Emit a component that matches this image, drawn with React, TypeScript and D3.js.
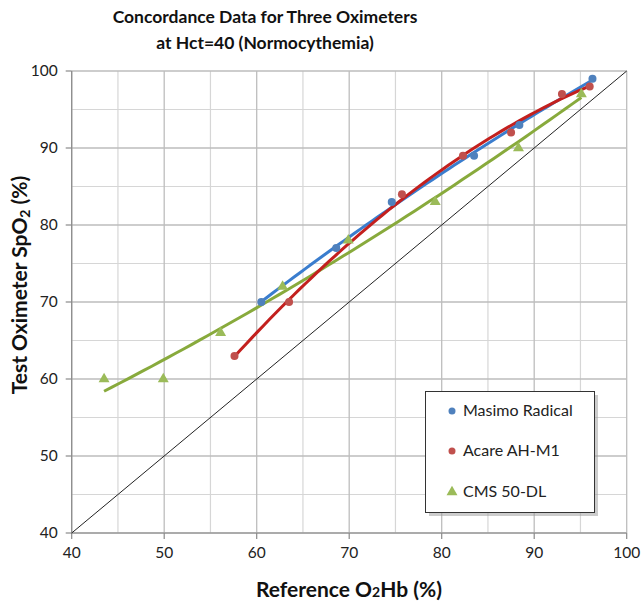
import React from "react";
import * as d3 from "d3";

const masimoX = [60.5, 68.6, 74.6, 83.5, 88.4, 96.3];
const masimoY = [70, 77, 83, 89, 93, 99];
const acareX = [57.6, 63.5, 75.7, 82.3, 87.5, 93.0, 96.0];
const acareY = [63, 70, 84, 89, 92, 97, 98];
const cmsX = [43.5, 49.9, 56.1, 62.8, 69.9, 79.3, 88.3, 95.1];
const cmsY = [60, 60, 66, 72, 78, 83, 90, 97];
const ticks = [40, 50, 60, 70, 80, 90, 100];
const minorTicks = [45, 55, 65, 75, 85, 95];
const seriesNames = ["Masimo Radical", "Acare AH-M1", "CMS 50-DL"];

const W = 643;
const H = 604;
const FONT = "Lato, 'Open Sans', sans-serif";

const x = d3.scaleLinear().domain([40, 100]).range([71.7, 626.7]);
const y = d3.scaleLinear().domain([40, 100]).range([533, 71]);

// quadratic least-squares trendline (like an Excel polynomial trendline)
function quadFit(xs: number[], ys: number[]) {
  const m = d3.mean(xs) as number;
  const u = xs.map((v) => v - m);
  const n = xs.length;
  let s1 = 0, s2 = 0, s3 = 0, s4 = 0, t0 = 0, t1 = 0, t2 = 0;
  for (let i = 0; i < n; i++) {
    const a = u[i];
    s1 += a; s2 += a * a; s3 += a * a * a; s4 += a * a * a * a;
    t0 += ys[i]; t1 += a * ys[i]; t2 += a * a * ys[i];
  }
  const A = [
    [n, s1, s2, t0],
    [s1, s2, s3, t1],
    [s2, s3, s4, t2],
  ];
  for (let c = 0; c < 3; c++) {
    for (let r = c + 1; r < 3; r++) {
      const f = A[r][c] / A[c][c];
      for (let k = c; k < 4; k++) A[r][k] -= f * A[c][k];
    }
  }
  const sol = [0, 0, 0];
  for (let r = 2; r >= 0; r--) {
    let s = A[r][3];
    for (let k = r + 1; k < 3; k++) s -= A[r][k] * sol[k];
    sol[r] = s / A[r][r];
  }
  return (v: number) => sol[0] + sol[1] * (v - m) + sol[2] * (v - m) * (v - m);
}

function trendPath(xs: number[], ys: number[]) {
  const f = quadFit(xs, ys);
  const [lo, hi] = d3.extent(xs) as [number, number];
  const pts = d3.range(0, 61).map((i) => lo + ((hi - lo) * i) / 60);
  return d3.line<number>().x((v) => x(v)).y((v) => y(f(v)))(pts) as string;
}

const tri = d3.symbol().type(d3.symbolTriangle).size(52)() as string;

export default function App() {
  const blueP = "#4f81bd";
  const blueL = "#3a7dce";
  const redP = "#c0504d";
  const redL = "#c3201e";
  const greenP = "#9bbb59";
  const greenL = "#88aa3c";
  return (
    <svg width={W} height={H} style={{ position: "absolute", left: 0, top: 0, background: "#fff" }}>
      <rect x={0} y={0} width={W} height={H} fill="#fff" />
      {/* minor grid */}
      {minorTicks.map((t) => (
        <g key={"m" + t}>
          <line x1={x(t)} x2={x(t)} y1={y(40)} y2={y(100)} stroke="#d6d6d6" strokeWidth={1.2} />
          <line x1={x(40)} x2={x(100)} y1={y(t)} y2={y(t)} stroke="#d6d6d6" strokeWidth={1.2} />
        </g>
      ))}
      {/* major grid */}
      {ticks.map((t) => (
        <g key={"g" + t}>
          <line x1={x(t)} x2={x(t)} y1={y(40)} y2={y(100)} stroke="#bdbdbd" strokeWidth={1.3} />
          <line x1={x(40)} x2={x(100)} y1={y(t)} y2={y(t)} stroke="#bdbdbd" strokeWidth={1.3} />
        </g>
      ))}
      {/* axes */}
      <line x1={x(40)} x2={x(40)} y1={y(40)} y2={y(100)} stroke="#8a8a8a" strokeWidth={1.2} />
      <line x1={x(40)} x2={x(100)} y1={y(40)} y2={y(40)} stroke="#8a8a8a" strokeWidth={1.2} />
      {ticks.map((t) => (
        <g key={"t" + t}>
          <line x1={x(40) - 6} x2={x(40)} y1={y(t)} y2={y(t)} stroke="#8a8a8a" strokeWidth={1.2} />
          <line x1={x(t)} x2={x(t)} y1={y(40)} y2={y(40) + 6} stroke="#8a8a8a" strokeWidth={1.2} />
          <text x={x(40) - 14} y={y(t) + 5} textAnchor="end" fontFamily={FONT} fontSize={15.5} fill="#222">
            {t}
          </text>
          <text x={x(t)} y={y(40) + 25} textAnchor="middle" fontFamily={FONT} fontSize={15.5} fill="#222">
            {t}
          </text>
        </g>
      ))}
      {/* identity line */}
      <line x1={x(40)} y1={y(40)} x2={x(100)} y2={y(100)} stroke="#222" strokeWidth={1} />
      {/* trendlines */}
      <path d={trendPath(cmsX, cmsY)} fill="none" stroke={greenL} strokeWidth={3} />
      <path d={trendPath(masimoX, masimoY)} fill="none" stroke={blueL} strokeWidth={3} />
      <path d={trendPath(acareX, acareY)} fill="none" stroke={redL} strokeWidth={3} />
      {/* points */}
      {cmsX.map((v, i) => (
        <path key={"c" + i} d={tri} transform={`translate(${x(v)},${y(cmsY[i])})`} fill={greenP} />
      ))}
      {masimoX.map((v, i) => (
        <circle key={"b" + i} cx={x(v)} cy={y(masimoY[i])} r={4} fill={blueP} />
      ))}
      {acareX.map((v, i) => (
        <circle key={"r" + i} cx={x(v)} cy={y(acareY[i])} r={4} fill={redP} />
      ))}
      {/* title */}
      <text x={265} y={23} textAnchor="middle" fontFamily={FONT} fontWeight="bold" fontSize={17.5} fill="#111">
        Concordance Data for Three Oximeters
      </text>
      <text x={265} y={49} textAnchor="middle" fontFamily={FONT} fontWeight="bold" fontSize={17.5} fill="#111">
        at Hct=40 (Normocythemia)
      </text>
      {/* axis titles */}
      <text x={349} y={597} textAnchor="middle" fontFamily={FONT} fontWeight="bold" fontSize={21} fill="#111">
        Reference O<tspan fontSize={14}>2</tspan>Hb (%)
      </text>
      <text
        transform={`translate(27,${285}) rotate(-90)`}
        textAnchor="middle"
        fontFamily={FONT}
        fontWeight="bold"
        fontSize={21}
        fill="#111"
      >
        Test Oximeter SpO<tspan fontSize={14} dy={3}>2</tspan>
        <tspan dy={-3}> (%)</tspan>
      </text>
      {/* legend */}
      <rect x={429} y={395} width={169} height={121} fill="#9a9a9a" opacity={0.5} />
      <rect x={425.5} y={391.5} width={169} height={121} fill="#fff" stroke="#333" strokeWidth={1} />
      <circle cx={452} cy={411} r={3.5} fill={blueP} />
      <text x={463} y={416} fontFamily={FONT} fontSize={16} fill="#222">{seriesNames[0]}</text>
      <circle cx={452} cy={451} r={3.5} fill={redP} />
      <text x={463} y={456} fontFamily={FONT} fontSize={16} fill="#222">{seriesNames[1]}</text>
      <path d={tri} transform="translate(452,492)" fill={greenP} />
      <text x={463} y={497} fontFamily={FONT} fontSize={16} fill="#222">{seriesNames[2]}</text>
    </svg>
  );
}
